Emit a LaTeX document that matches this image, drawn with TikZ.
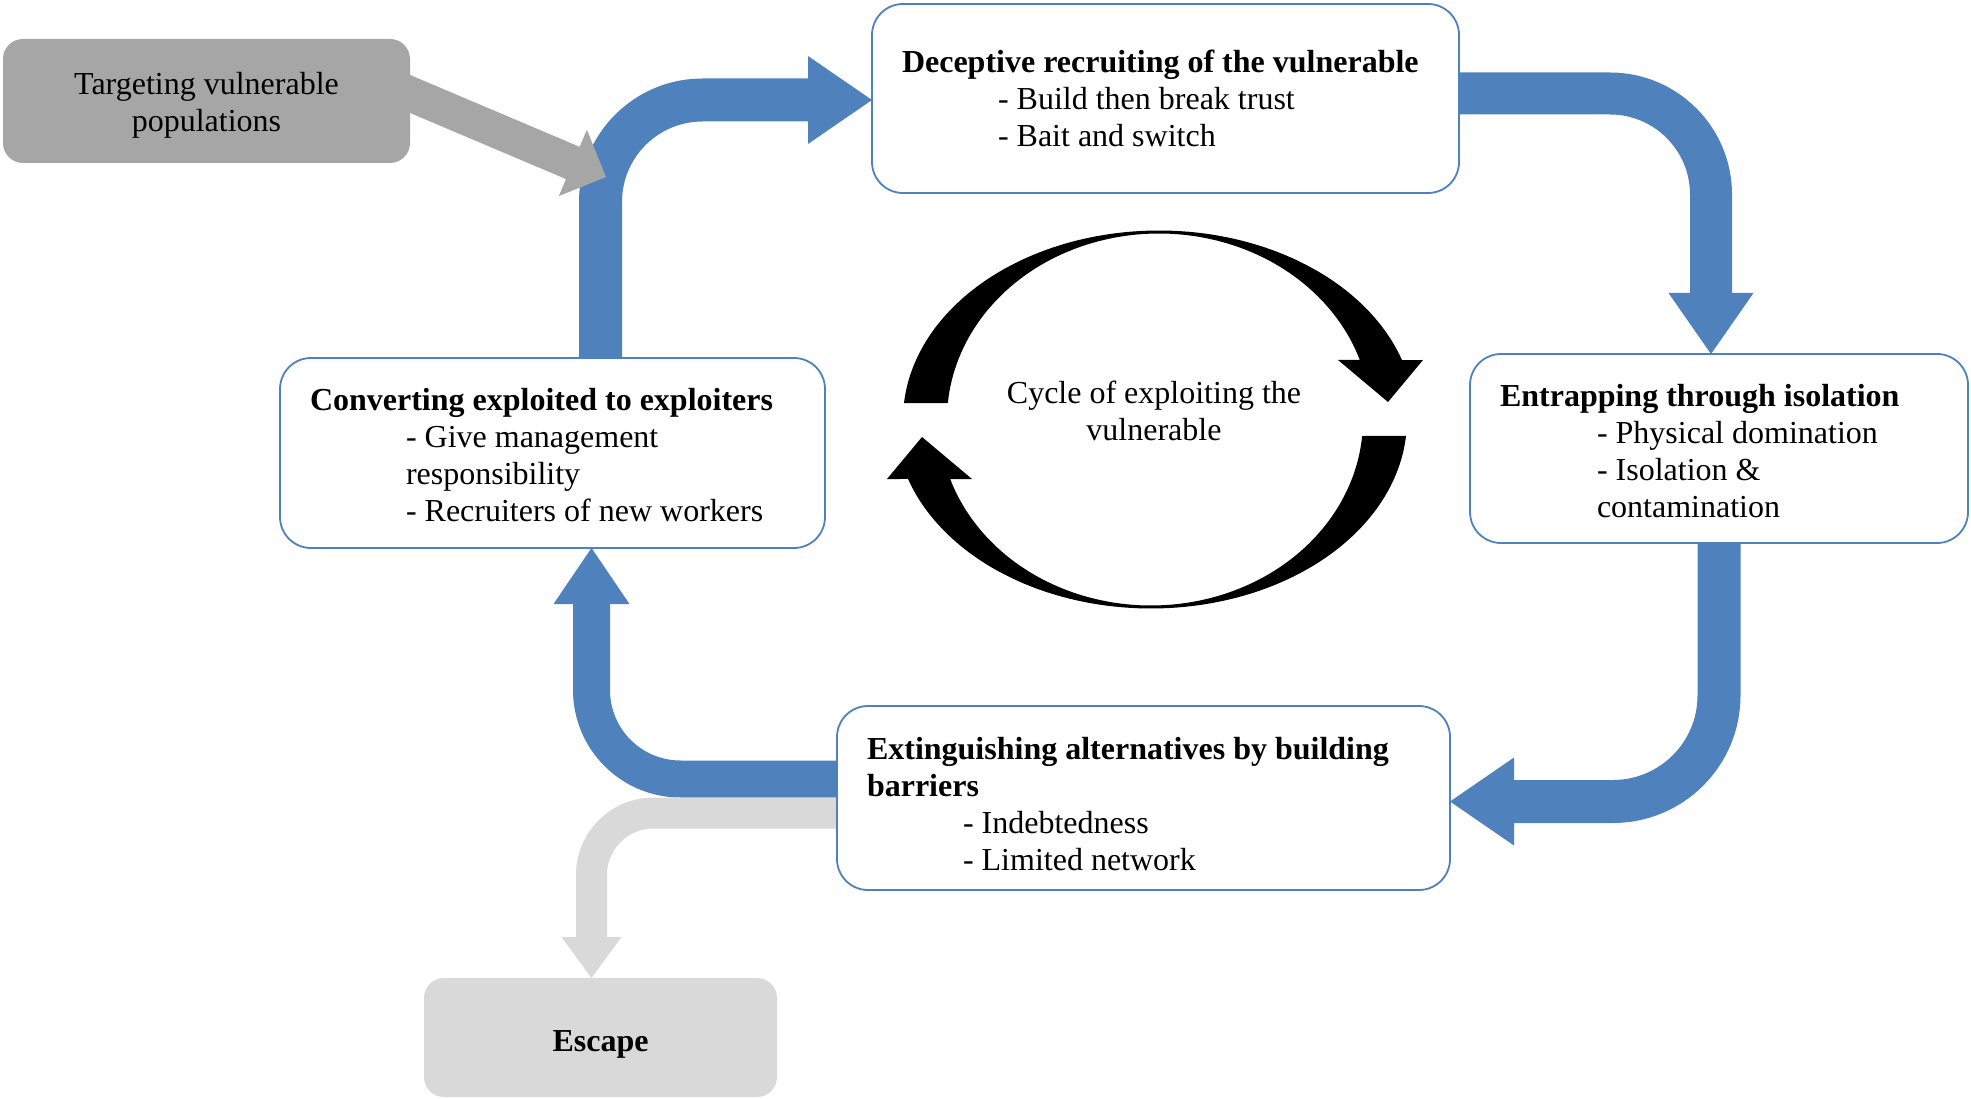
\documentclass[tikz,border=0pt]{standalone}
\usepackage{fontspec}
\setmainfont{Liberation Serif}
\usetikzlibrary{calc}
\definecolor{cblue}{HTML}{4F81BD}
\definecolor{cgray}{HTML}{A6A6A6}
\definecolor{clight}{HTML}{D9D9D9}
\begin{document}
\begin{tikzpicture}[x=1pt,y=-1pt,
  bluebox/.style={rectangle, draw=cblue, line width=1.8pt, fill=white, rounded corners=31pt, inner sep=0pt, outer sep=0pt},
  graybox/.style={rectangle, fill=#1, rounded corners=20pt, inner sep=0pt, outer sep=0pt},
  txt/.style={inner sep=0pt, outer sep=0pt, anchor=base west, font=\fontsize{32}{37}\selectfont},
  txtb/.style={txt, font=\fontsize{32}{37}\selectfont\bfseries},
  ctxt/.style={txt, anchor=base},
  bentarrow/.style={draw=cblue, line cap=butt},
  headfill/.style={fill=cblue},
  cyclefill/.style={fill=black}]
\useasboundingbox (0,0) rectangle (1971,1099);

% boxes as named nodes (drawn later on top via layering order below)
\path
  node[bluebox, minimum width=587pt, minimum height=189pt, draw=none, fill=none] (dec) at (1165.5,98.5) {}
  node[bluebox, minimum width=498pt, minimum height=189pt, draw=none, fill=none] (ent) at (1719,448.5) {}
  node[bluebox, minimum width=545pt, minimum height=190pt, draw=none, fill=none] (conv) at (552.5,453) {}
  node[bluebox, minimum width=613pt, minimum height=184pt, draw=none, fill=none] (ext) at (1143.5,798) {}
  node[graybox=none, minimum width=407pt, minimum height=124pt] (tgt) at (206.5,101) {}
  node[graybox=none, minimum width=353pt, minimum height=119pt] (esc) at (600.5,1037.5) {};

\coordinate (a1) at (600.5,0);
\coordinate (a2) at (1711,0);
\coordinate (a4) at (591.5,0);
\coordinate (gt) at (606,177);

% Converting -> Deceptive
\draw[bentarrow, line width=43pt, rounded corners=102pt, shorten >=63pt]
  (conv.north -| a1) |- ([yshift=-1.5pt]dec.west);
\fill[headfill] ([yshift=-1.5pt]dec.west) -- ++(-64,-44) -- ++(0,88) -- cycle;

% Deceptive -> Entrapping
\draw[bentarrow, line width=42pt, rounded corners=101pt, shorten >=60pt]
  ([yshift=5pt]dec.east) -| (ent.north -| a2);
\fill[headfill] (ent.north -| a2) -- ++(-42.5,-61) -- ++(85,0) -- cycle;

% Entrapping -> Extinguishing
\draw[bentarrow, line width=43pt, rounded corners=106pt, shorten >=63pt]
  (ent.south) |- ([yshift=-3.5pt]ext.east);
\fill[headfill] ([yshift=-3.5pt]ext.east) -- ++(64,-44) -- ++(0,88) -- cycle;

% Extinguishing -> Converting
\draw[bentarrow, line width=37pt, rounded corners=89pt, shorten >=55pt]
  ([yshift=19pt]ext.west) -| (conv.south -| a4);
\fill[headfill] (conv.south -| a4) -- ++(-38,56) -- ++(76,0) -- cycle;

% Extinguishing -> Escape
\draw[draw=clight, line width=31pt, rounded corners=62pt, shorten >=40pt]
  ([yshift=-15pt]ext.west) -| (esc.north -| a4);
\fill[clight] (esc.north -| a4) -- ++(-30,-41) -- ++(60,0) -- cycle;

% Targeting -> cycle
\coordinate (gs) at ([xshift=-40pt,yshift=24pt]tgt.east);
\draw[draw=cgray, line width=35pt, shorten >=35pt] (gs) -- (gt);
\coordinate (gb) at ($(gt)!36pt!(gs)$);
\fill[cgray] (gt) -- ($(gb)!36pt!90:(gt)$) -- ($(gb)!36pt!-90:(gt)$) -- cycle;

% boxes drawn on top
\path
  node[bluebox, minimum width=587pt, minimum height=189pt] (decB) at (dec) {}
  node[bluebox, minimum width=498pt, minimum height=189pt] (entB) at (ent) {}
  node[bluebox, minimum width=545pt, minimum height=190pt] (convB) at (conv) {}
  node[bluebox, minimum width=613pt, minimum height=184pt] (extB) at (ext) {}
  node[graybox=cgray, minimum width=407pt, minimum height=124pt] (tgtB) at (tgt) {}
  node[graybox=clight, minimum width=353pt, minimum height=119pt] (escB) at (esc) {};

% circular arrows
\fill[cyclefill]
  plot[domain=185:341.65, samples=90] ({1159+256*cos(\x)},{419.5+189*sin(\x)})
  -- (1423,360) -- (1388,402) -- (1338,360)
  -- plot[domain=341.34:185.09, samples=90] ({1159+212*cos(\x)},{419.5+186*sin(\x)})
  -- cycle;
\begin{scope}[rotate around={180:(1155,419.5)}]
\fill[cyclefill]
  plot[domain=185:341.65, samples=90] ({1159+256*cos(\x)},{419.5+189*sin(\x)})
  -- (1423,360) -- (1388,402) -- (1338,360)
  -- plot[domain=341.34:185.09, samples=90] ({1159+212*cos(\x)},{419.5+186*sin(\x)})
  -- cycle;
\end{scope}

% texts
\node[txtb] (d1) at (902,73) {Deceptive recruiting of the vulnerable};
\node[txt] (d2) at (998,110) {- Build then break trust};
\node[txt] (d3) at (998,147) {- Bait and switch};

\node[txtb] (e1) at (1500,406) {Entrapping through isolation};
\node[txt] (e2) at (1597,443) {- Physical domination};
\node[txt] (e3) at (1597,480) {- Isolation \&};
\node[txt] (e4) at (1597,517) {contamination};

\node[txtb] (c1) at (310,410) {Converting exploited to exploiters};
\node[txt] (c2) at (406,447) {- Give management};
\node[txt] (c3) at (406,484) {responsibility};
\node[txt] (c4) at (406,521) {- Recruiters of new workers};

\node[txtb] (x1) at (867,759) {Extinguishing alternatives by building};
\node[txtb] (x2) at (867,796) {barriers};
\node[txt] (x3) at (963,833) {- Indebtedness};
\node[txt] (x4) at (963,870) {- Limited network};

\node[ctxt] (t1) at (206.5,95) {Targeting vulnerable};
\node[ctxt] (t2) at (206.5,132) {populations};

\node[ctxt, font=\fontsize{32}{37}\selectfont\bfseries] (s1) at (600.5,1051) {Escape};

\node[ctxt] (y1) at (1154,403) {Cycle of exploiting the};
\node[ctxt] (y2) at (1154,440) {vulnerable};
\end{tikzpicture}
\end{document}
